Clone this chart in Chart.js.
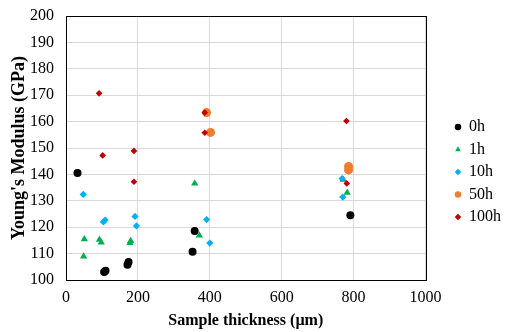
<!DOCTYPE html>
<html>
<head>
<meta charset="utf-8">
<script src="https://cdn.jsdelivr.net/npm/chart.js@4.4.0/dist/chart.umd.min.js"></script>
<style>
  html, body { margin: 0; padding: 0; background: #fff; }
  #wrap { width: 505px; height: 332px; }
</style>
</head>
<body>
<div id="wrap"><canvas id="grafico" width="505" height="332"></canvas></div>
<script>
// Datos (espesor en µm, módulo en GPa)
const x0h = [32, 106, 110, 171, 174, 352, 358, 791];
const y0h = [140.5, 103.0, 103.5, 105.8, 106.8, 110.7, 118.6, 124.5];

const x1h = [51, 49, 93, 98, 178, 180, 358, 371, 771, 782];
const y1h = [115.5, 108.9, 115.3, 114.2, 114.1, 114.8, 136.6, 116.9, 138.0, 133.1];

const x10h = [48, 104, 109, 192, 196, 391, 400, 768, 770];
const y10h = [132.4, 122.0, 122.7, 124.1, 120.5, 122.9, 114.0, 138.4, 131.4];

const x50h = [391, 402, 786, 786];
const y50h = [163.4, 155.9, 143.0, 141.7];

const x100h = [92, 102, 189, 189, 386, 386, 780, 781];
const y100h = [170.7, 147.2, 148.9, 137.2, 163.4, 155.8, 160.2, 136.6];

const xTicks = [0, 200, 400, 600, 800, 1000];
const yTicks = [100, 110, 120, 130, 140, 150, 160, 170, 180, 190, 200];

function puntos(xs, ys) {
    return xs.map((x, i) => ({ x: x, y: ys[i] }));
}

// Borde negro alrededor del área del gráfico
const bordePlugin = {
    id: 'borde',
    afterDatasetsDraw(chart) {
        const a = chart.chartArea;
        const ctx = chart.ctx;
        ctx.save();
        ctx.strokeStyle = '#000';
        ctx.lineWidth = 1;
        ctx.strokeRect(Math.round(a.left) + 0.5, Math.round(a.top) + 0.5,
            Math.round(a.right - a.left), Math.round(a.bottom - a.top));
        ctx.restore();
    }
};

// Mover la leyenda (texto empieza en x≈469)
const leyendaPlugin = {
    id: 'moverLeyenda',
    afterLayout(chart) {
        const lg = chart.legend;
        if (!lg) return;
        const lab = lg.options.labels;
        const inicioTexto = lg.left + lab.padding + lab.boxWidth + lab.font.size / 2;
        const dx = 469 - inicioTexto;
        lg.left += dx;
        lg.right += dx;
        lg.top -= 2;
        lg.bottom -= 2;
    }
};

const fuente = "'Liberation Serif', 'Times New Roman', serif";

new Chart(document.getElementById('grafico'), {
    type: 'scatter',
    data: {
        datasets: [
            { label: '0h', data: puntos(x0h, y0h), pointStyle: 'circle', pointRadius: 4,
              backgroundColor: '#000000', borderColor: '#000000', borderWidth: 0, order: 5 },
            { label: '1h', data: puntos(x1h, y1h), pointStyle: 'triangle', pointRadius: 4.2,
              backgroundColor: '#00b050', borderColor: '#00b050', borderWidth: 0, order: 4 },
            { label: '10h', data: puntos(x10h, y10h), pointStyle: 'rectRot', pointRadius: 3.6,
              backgroundColor: '#00b0f0', borderColor: '#00b0f0', borderWidth: 0, order: 3 },
            { label: '50h', data: puntos(x50h, y50h), pointStyle: 'circle', pointRadius: 4.5,
              backgroundColor: '#ed7d31', borderColor: '#ed7d31', borderWidth: 0, order: 2 },
            { label: '100h', data: puntos(x100h, y100h), pointStyle: 'rectRot', pointRadius: 3.3,
              backgroundColor: '#c00000', borderColor: '#c00000', borderWidth: 0, order: 1 }
        ]
    },
    options: {
        responsive: false,
        animation: false,
        layout: { padding: { top: 16, right: 17, left: 0, bottom: 0 } },
        plugins: {
            tooltip: { enabled: false },
            legend: {
                position: 'right',
                align: 'center',
                labels: {
                    usePointStyle: true,
                    boxWidth: 6,
                    boxHeight: 4.6,
                    padding: 6.5,
                    color: '#000',
                    font: { family: fuente, size: 16 },
                    sort: (a, b) => a.datasetIndex - b.datasetIndex
                }
            }
        },
        scales: {
            x: {
                type: 'linear',
                min: 0,
                max: 1000,
                afterBuildTicks(scale) { scale.ticks = xTicks.map(v => ({ value: v })); },
                afterFit(scale) { scale.height = 52; scale.paddingLeft = 0; scale.paddingRight = 0; },
                grid: { color: '#d9d9d9', drawTicks: false },
                border: { display: false },
                ticks: { color: '#000', padding: 8, font: { family: fuente, size: 16 },
                         callback: v => String(v) },
                title: {
                    display: true,
                    text: 'Sample thickness (µm)',
                    color: '#000',
                    padding: { top: 0, bottom: 2 },
                    font: { family: fuente, size: 16, weight: 'bold' }
                }
            },
            y: {
                type: 'linear',
                min: 100,
                max: 200,
                afterBuildTicks(scale) { scale.ticks = yTicks.map(v => ({ value: v })); },
                afterFit(scale) { scale.width = 66; scale.paddingTop = 0; scale.paddingBottom = 0; },
                grid: { color: '#d9d9d9', drawTicks: false },
                border: { display: false },
                ticks: { color: '#000', padding: 12, font: { family: fuente, size: 16 },
                         callback: v => String(v) },
                title: {
                    display: true,
                    text: "Young's Modulus (GPa)",
                    color: '#000',
                    padding: { top: 9, bottom: 0 },
                    font: { family: fuente, size: 18, weight: 'bold' }
                }
            }
        }
    },
    plugins: [bordePlugin, leyendaPlugin]
});
</script>
</body>
</html>
